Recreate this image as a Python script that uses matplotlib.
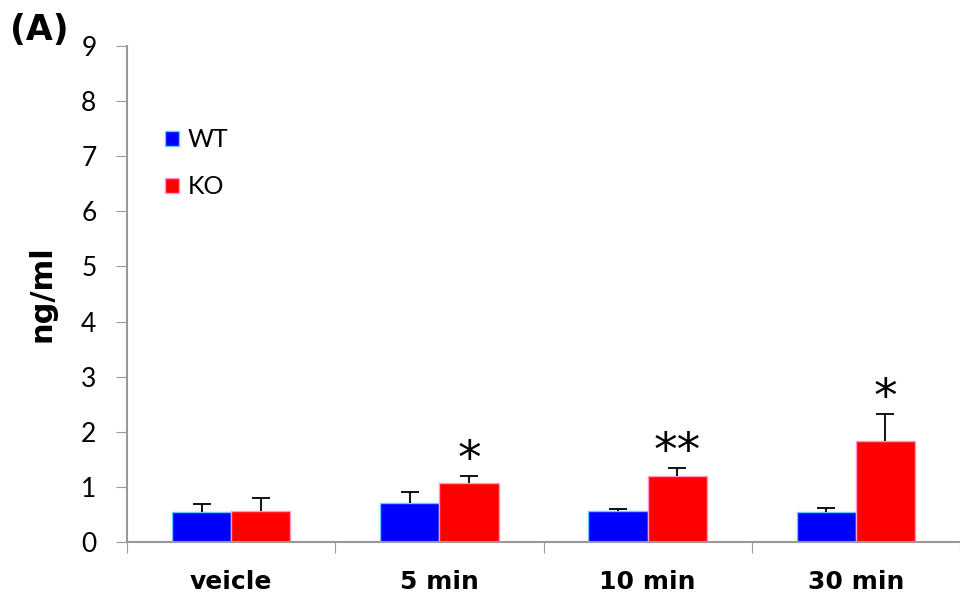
import matplotlib.pyplot as plt
import numpy as np

plt.rcParams['font.family'] = ['Lato', 'DejaVu Sans']

categories = ['veicle', '5 min', '10 min', '30 min']
wt_mean = [0.55, 0.70, 0.57, 0.54]
wt_err = [0.14, 0.21, 0.02, 0.08]
ko_mean = [0.57, 1.07, 1.19, 1.84]
ko_err = [0.23, 0.12, 0.15, 0.48]
stars = ['', '*', '**', '*']

fig = plt.figure(figsize=(9.6, 5.99), dpi=100)
ax = fig.add_axes([127 / 960, 1 - 542 / 599, 833 / 960, 496 / 599])

x = np.arange(len(categories))
w = 0.284
ax.bar(x - w / 2, wt_mean, w, color='#0000ff', edgecolor='#66ccff', linewidth=1,
       label='WT', zorder=2)
ax.bar(x + w / 2, ko_mean, w, color='#ff0000', edgecolor='#ff99cc', linewidth=1,
       label='KO', zorder=2)

# upper-only error bars with a single cap on top
for xs, m, e in [(x - w / 2, wt_mean, wt_err), (x + w / 2, ko_mean, ko_err)]:
    top = np.array(m) + np.array(e)
    ax.vlines(xs, m, top, color='black', linewidth=1.3, zorder=3)
    ax.plot(xs, top, linestyle='none', marker='_', markersize=13, markeredgewidth=1.3,
            color='black', zorder=3)

# significance marks above KO bars
for i, s in enumerate(stars):
    if s:
        ax.text(x[i] + w / 2, ko_mean[i] + ko_err[i] - 0.12, s, ha='center', va='bottom',
                fontsize=34, fontfamily='DejaVu Sans')

ax.set_xlim(-0.5, 3.5)
ax.set_ylim(0, 9)
ax.set_yticks(range(0, 10))
ax.tick_params(axis='y', labelsize=19, length=8, color='#999999', direction='out', pad=14)
ax.set_xticks(np.arange(-0.5, 3.6, 1.0))
ax.set_xticklabels([])
ax.tick_params(axis='x', length=8, color='#999999', direction='out')
for i, c in enumerate(categories):
    ax.text(x[i], -0.5, c, ha='center', va='top', fontsize=18, fontweight='bold',
            fontfamily='DejaVu Sans')

for side in ['top', 'right']:
    ax.spines[side].set_visible(False)
for side in ['left', 'bottom']:
    ax.spines[side].set_color('#999999')
    ax.spines[side].set_linewidth(1.5)

ax.set_ylabel('ng/ml', fontsize=22, fontweight='bold', fontfamily='DejaVu Sans', labelpad=18)

ax.legend(loc='upper left', bbox_to_anchor=(165 / 960, 1 - 128 / 599),
          bbox_transform=fig.transFigure, frameon=False, fontsize=18, borderpad=0,
          borderaxespad=0, handlelength=0.55, handleheight=0.55, handletextpad=0.35,
          labelspacing=0.97)

fig.text(10 / 960, 1 - 30 / 599, '(A)', fontsize=25, fontweight='bold', fontfamily='DejaVu Sans',
         va='center', ha='left')

fig.savefig('out.png', dpi=100)
